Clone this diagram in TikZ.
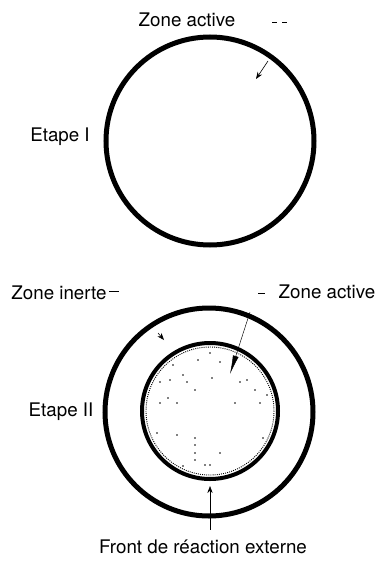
\documentclass[tikz,border=0pt]{standalone}
\usepackage{fontspec}
\setmainfont{TeX Gyre Heros}
\usetikzlibrary{arrows.meta, positioning}

\begin{document}
\begin{tikzpicture}[x=0.3mm,y=-0.3mm,
    ring/.style={circle,draw,inner sep=0pt,line width=1.5mm},
    lbl/.style={font=\fontsize{16}{19}\selectfont,inner sep=0pt},
    tip/.style={-{Stealth[length=6pt,width=4.5pt]},line width=0.5pt},
    wedge/.style={-{Latex[length=16pt,width=5pt]},line width=0.4pt},
    stub/.style={line width=0.7pt}
]
  \useasboundingbox (0,0) rectangle (379,569);

  % Etape I
  \node[ring,minimum size=62.4mm] (grain1) at (210,141) {};
  \node[lbl] (za1) at (187,20) {Zone active};
  \node[lbl] (et1) at (60,137) {Etape I};
  \coordinate (za1-s) at (272,22);
  \coordinate (za1-t) at (287,22);
  \draw[stub,dash pattern=on 4.2pt off 4.5pt] (za1-s) -- (za1-t);
  \coordinate (za1-a) at (268,61);
  \coordinate (za1-b) at (256,79);
  \draw[tip] (za1-a) -- (za1-b);

  % Etape II
  \node[ring,minimum size=62.4mm] (grain2) at (209,412) {};
  \node[circle,draw,inner sep=0pt,line width=1.2mm,minimum size=40.8mm] (core) at (210,411) {};
  \draw[densely dotted,line width=0.8pt] (core.center) circle (64);
  \foreach \px/\py in {173/365,183/375,187/382,195/390,212/378,168/398,177/403,
                       160/403,235/403,247/380,255/390,260/403,220/362,210/353,
                       198/360,157/433,177/435,195/438,195/445,195/453,220/453,
                       195/460,205/465,210/465,183/466,263/438,240/382,160/382,
                       170/380,267/395}
    \fill (\px,\py) circle (0.9);

  \node[lbl] (zi) at (59,293) {Zone inerte};
  \node[lbl] (za2) at (327,292) {Zone active};
  \node[lbl] (et2) at (61,412) {Etape II};
  \node[lbl] (front) at (203,547) {Front de réaction externe};

  % leaders
  \coordinate (zi-s) at (109,291);
  \coordinate (zi-t) at (119,291);
  \draw[stub] (zi-s) -- (zi-t);
  \coordinate (zi-a) at (158,333);
  \coordinate (zi-b) at (164,340);
  \draw[tip] (zi-a) -- (zi-b);

  \coordinate (za2-s) at (258,293);
  \coordinate (za2-t) at (265,293);
  \draw[stub] (za2-s) -- (za2-t);
  \coordinate (za2-a) at (250,312);
  \coordinate (za2-b) at (230,374);
  \draw[wedge] (za2-a) -- (za2-b);

  \draw[tip] (front.north -| core.south) ++(0,-10) coordinate (fr-a) -- ([yshift=-1.5mm]core.south);
\end{tikzpicture}
\end{document}
